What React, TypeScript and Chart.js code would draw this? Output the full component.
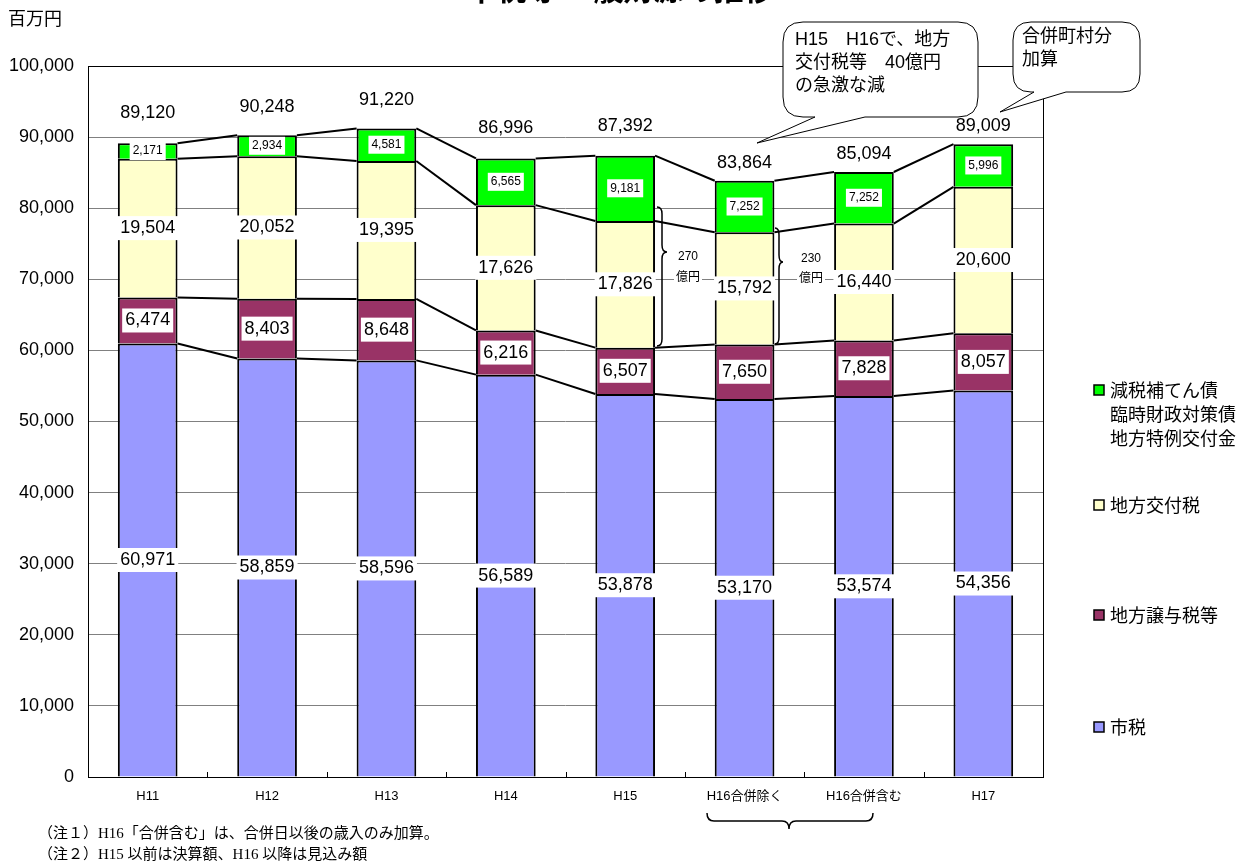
import React, { useEffect, useRef } from 'react';
import { Chart, registerables } from 'chart.js';
Chart.register(...registerables);

const CATEGORIES = ['H11', 'H12', 'H13', 'H14', 'H15', 'H16合併除く', 'H16合併含む', 'H17'];
const SHIZEI = [60971, 58859, 58596, 56589, 53878, 53170, 53574, 54356];
const JOYOZEI = [6474, 8403, 8648, 6216, 6507, 7650, 7828, 8057];
const KOFUZEI = [19504, 20052, 19395, 17626, 17826, 15792, 16440, 20600];
const GENZEI = [2171, 2934, 4581, 6565, 9181, 7252, 7252, 5996];
const TOTALS = [89120, 90248, 91220, 86996, 87392, 83864, 85094, 89009];
const SERIES_NAMES = ['市税', '地方譲与税等', '地方交付税', '減税補てん債'];
const LEGEND_LINES = [['市税'], ['地方譲与税等'], ['地方交付税'], ['減税補てん債', '臨時財政対策債', '地方特例交付金']];
const COLORS = ['#9999FF', '#993366', '#FFFFCC', '#00FF00'];
const TITLE = '市税等 一般財源の推移';
const UNIT = '百万円';
const BALLOON1 = ['H15　H16で、地方', '交付税等　40億円', 'の急激な減'];
const BALLOON2 = ['合併町村分', '加算'];
const BRACE1 = ['270', '億円'];
const BRACE2 = ['230', '億円'];
const NOTES = ['（注１）H16「合併含む」は、合併日以後の歳入のみ加算。', '（注２）H15 以前は決算額、H16 以降は見込み額'];

// pixel offset of each total label above its bar (style, not data)
const TOTAL_LABEL_GAP = [30, 28, 28, 30, 30, 18, 18, 18];

const FONT = "'Liberation Sans', 'Noto Sans CJK JP', sans-serif";
const JFONT = "'Noto Sans CJK JP', 'Liberation Sans', sans-serif";
const NFONT = "'Liberation Serif', 'Noto Sans CJK JP', serif";

const fmt = (v: number) => v.toLocaleString('en-US');

function drawLabel(ctx: CanvasRenderingContext2D, text: string, x: number, y: number, size: number, padX: number, padY: number, bg: boolean, family = FONT) {
  ctx.font = `${size}px ${family}`;
  const w = ctx.measureText(text).width;
  if (bg) {
    ctx.fillStyle = '#fff';
    ctx.fillRect(x - w / 2 - padX, y - size / 2 - padY, w + padX * 2, size + padY * 2);
  }
  ctx.fillStyle = '#000';
  ctx.textAlign = 'center';
  ctx.textBaseline = 'middle';
  ctx.fillText(text, x, y);
}

function balloon(ctx: CanvasRenderingContext2D, x: number, y: number, w: number, h: number, r: number, bx1: number, bx2: number, tx: number, ty: number) {
  ctx.beginPath();
  ctx.moveTo(x + r, y);
  ctx.lineTo(x + w - r, y);
  ctx.quadraticCurveTo(x + w, y, x + w, y + r);
  ctx.lineTo(x + w, y + h - r);
  ctx.quadraticCurveTo(x + w, y + h, x + w - r, y + h);
  ctx.lineTo(bx2, y + h);
  ctx.lineTo(tx, ty);
  ctx.lineTo(bx1, y + h);
  ctx.lineTo(x + r, y + h);
  ctx.quadraticCurveTo(x, y + h, x, y + h - r);
  ctx.lineTo(x, y + r);
  ctx.quadraticCurveTo(x, y, x + r, y);
  ctx.closePath();
  ctx.fillStyle = '#fff';
  ctx.fill();
  ctx.strokeStyle = '#000';
  ctx.lineWidth = 1;
  ctx.stroke();
}

function vbrace(ctx: CanvasRenderingContext2D, x: number, y1: number, yc: number, y2: number, w: number) {
  const r = 7;
  const m = x + w / 2;
  ctx.beginPath();
  ctx.moveTo(x, y1);
  ctx.quadraticCurveTo(m, y1, m, y1 + r);
  ctx.lineTo(m, yc - r);
  ctx.quadraticCurveTo(m, yc, x + w, yc);
  ctx.quadraticCurveTo(m, yc, m, yc + r);
  ctx.lineTo(m, y2 - r);
  ctx.quadraticCurveTo(m, y2, x, y2);
  ctx.stroke();
}

function hbrace(ctx: CanvasRenderingContext2D, x1: number, xc: number, x2: number, y: number, h: number) {
  const r = 7;
  const m = y + h / 2;
  ctx.beginPath();
  ctx.moveTo(x1, y);
  ctx.quadraticCurveTo(x1, m, x1 + r, m);
  ctx.lineTo(xc - r, m);
  ctx.quadraticCurveTo(xc, m, xc, y + h);
  ctx.quadraticCurveTo(xc, m, xc + r, m);
  ctx.lineTo(x2 - r, m);
  ctx.quadraticCurveTo(x2, m, x2, y);
  ctx.stroke();
}

const overlay = {
  id: 'overlay',
  afterDatasetsDraw(chart: any) {
    const ctx: CanvasRenderingContext2D = chart.ctx;
    const area = chart.chartArea;
    ctx.save();
    // plot border
    ctx.strokeStyle = '#000';
    ctx.lineWidth = 1;
    ctx.strokeRect(Math.round(area.left) + 0.5, Math.round(area.top) + 0.5, Math.round(area.right - area.left), Math.round(area.bottom - area.top));
    // inward category ticks
    const n = CATEGORIES.length;
    const cw = (area.right - area.left) / n;
    ctx.beginPath();
    for (let i = 1; i < n; i++) {
      const x = Math.round(area.left + i * cw) + 0.5;
      ctx.moveTo(x, area.bottom);
      ctx.lineTo(x, area.bottom - 5);
    }
    ctx.stroke();

    const metas = chart.data.datasets.map((_: any, i: number) => chart.getDatasetMeta(i));
    // series lines
    ctx.lineWidth = 2;
    ctx.strokeStyle = '#000';
    metas.forEach((meta: any) => {
      const els = meta.data;
      for (let i = 0; i < els.length - 1; i++) {
        const a = els[i], b = els[i + 1];
        ctx.beginPath();
        ctx.moveTo(a.x + a.width / 2, a.y);
        ctx.lineTo(b.x - b.width / 2, b.y);
        ctx.stroke();
      }
    });
    // data labels
    metas.forEach((meta: any, d: number) => {
      meta.data.forEach((el: any, i: number) => {
        const v = chart.data.datasets[d].data[i] as number;
        const y = (el.y + el.base) / 2;
        if (d === 3) drawLabel(ctx, fmt(v), el.x, y, 12, 3, 3, true);
        else drawLabel(ctx, fmt(v), el.x, y, 18, 3, 3, true);
      });
    });
    metas[3].data.forEach((el: any, i: number) => {
      drawLabel(ctx, fmt(TOTALS[i]), el.x, el.y - TOTAL_LABEL_GAP[i], 18, 0, 0, false);
    });
    ctx.restore();
  },
  afterDraw(chart: any) {
    const ctx: CanvasRenderingContext2D = chart.ctx;
    ctx.save();
    // title (cut off at top)
    ctx.font = `bold 30px ${JFONT}`;
    ctx.fillStyle = '#000';
    ctx.textAlign = 'center';
    ctx.textBaseline = 'ideographic';
    ctx.fillText(TITLE, 620, 4);
    // unit
    ctx.font = `18px ${JFONT}`;
    ctx.textAlign = 'left';
    ctx.textBaseline = 'middle';
    ctx.fillText(UNIT, 8, 18);

    // balloons
    balloon(ctx, 783, 22, 195, 95, 20, 815, 865, 757, 143);
    ctx.fillStyle = '#000';
    ctx.font = `18px ${FONT}`;
    ctx.textAlign = 'left';
    ctx.textBaseline = 'middle';
    BALLOON1.forEach((t, i) => ctx.fillText(t, 795, 40 + i * 23));
    balloon(ctx, 1013, 22, 127, 70, 18, 1034, 1066, 1000, 112);
    ctx.fillStyle = '#000';
    BALLOON2.forEach((t, i) => ctx.fillText(t, 1022, 37 + i * 23));

    // braces
    ctx.strokeStyle = '#000';
    ctx.lineWidth = 1.5;
    vbrace(ctx, 657, 207, 252, 346, 10);
    vbrace(ctx, 775, 228, 262, 344, 8);
    hbrace(ctx, 707, 789, 873, 813, 16);
    drawLabel(ctx, BRACE1[0], 688, 257, 12, 2, 1, true);
    drawLabel(ctx, BRACE1[1], 688, 276, 12, 2, 1, true, JFONT);
    drawLabel(ctx, BRACE2[0], 811, 259, 12, 2, 1, true);
    drawLabel(ctx, BRACE2[1], 811, 277, 12, 2, 1, true, JFONT);

    // legend
    const legendY = [727, 615, 505, 390];
    for (let d = 0; d < SERIES_NAMES.length; d++) {
      const y = legendY[d];
      ctx.fillStyle = COLORS[d];
      ctx.fillRect(1094, y - 5, 10, 10);
      ctx.strokeStyle = '#000';
      ctx.lineWidth = 1.5;
      ctx.strokeRect(1094, y - 5, 10, 10);
      ctx.fillStyle = '#000';
      ctx.font = `18px ${JFONT}`;
      ctx.textAlign = 'left';
      ctx.textBaseline = 'middle';
      LEGEND_LINES[d].forEach((t, i) => ctx.fillText(t, 1110, y + i * 24));
    }

    // notes
    ctx.font = `15px ${NFONT}`;
    ctx.fillStyle = '#000';
    ctx.textAlign = 'left';
    ctx.textBaseline = 'middle';
    NOTES.forEach((t, i) => ctx.fillText(t, 38, 834 + i * 21));
    ctx.restore();
  },
};

export default function App() {
  const ref = useRef<HTMLCanvasElement>(null);
  useEffect(() => {
    Chart.defaults.font.family = FONT;
    const series = [SHIZEI, JOYOZEI, KOFUZEI, GENZEI];
    const chart = new Chart(ref.current!, {
      type: 'bar',
      data: {
        labels: CATEGORIES,
        datasets: series.map((data, i) => ({
          label: SERIES_NAMES[i],
          data,
          backgroundColor: COLORS[i],
          borderColor: '#000',
          borderWidth: 2,
          barPercentage: 0.5,
          categoryPercentage: 1,
          stack: 's',
        })),
      },
      options: {
        animation: false,
        responsive: true,
        maintainAspectRatio: false,
        layout: { padding: { left: 0, top: 66, right: 209, bottom: 0 } },
        plugins: { legend: { display: false }, tooltip: { enabled: false }, title: { display: false } },
        scales: {
          x: {
            stacked: true,
            grid: { display: false, drawTicks: false },
            border: { display: false },
            ticks: { font: { size: 13, family: FONT }, color: '#000', padding: 12, maxRotation: 0, autoSkip: false },
            afterFit: (s: any) => { s.height = 86; },
          },
          y: {
            stacked: true,
            min: 0,
            max: 100000,
            grid: { color: '#808080', lineWidth: 1, drawTicks: false },
            border: { display: false },
            ticks: { stepSize: 10000, callback: (v: any) => fmt(Number(v)), font: { size: 18, family: FONT }, color: '#000', padding: 14 },
            afterFit: (s: any) => { s.width = 88; },
          },
        },
      },
      plugins: [overlay],
    } as any);
    return () => chart.destroy();
  }, []);
  return (
    <div style={{ position: 'fixed', left: 0, top: 0, width: 1252, height: 863, background: '#fff' }}>
      <canvas ref={ref} />
    </div>
  );
}
